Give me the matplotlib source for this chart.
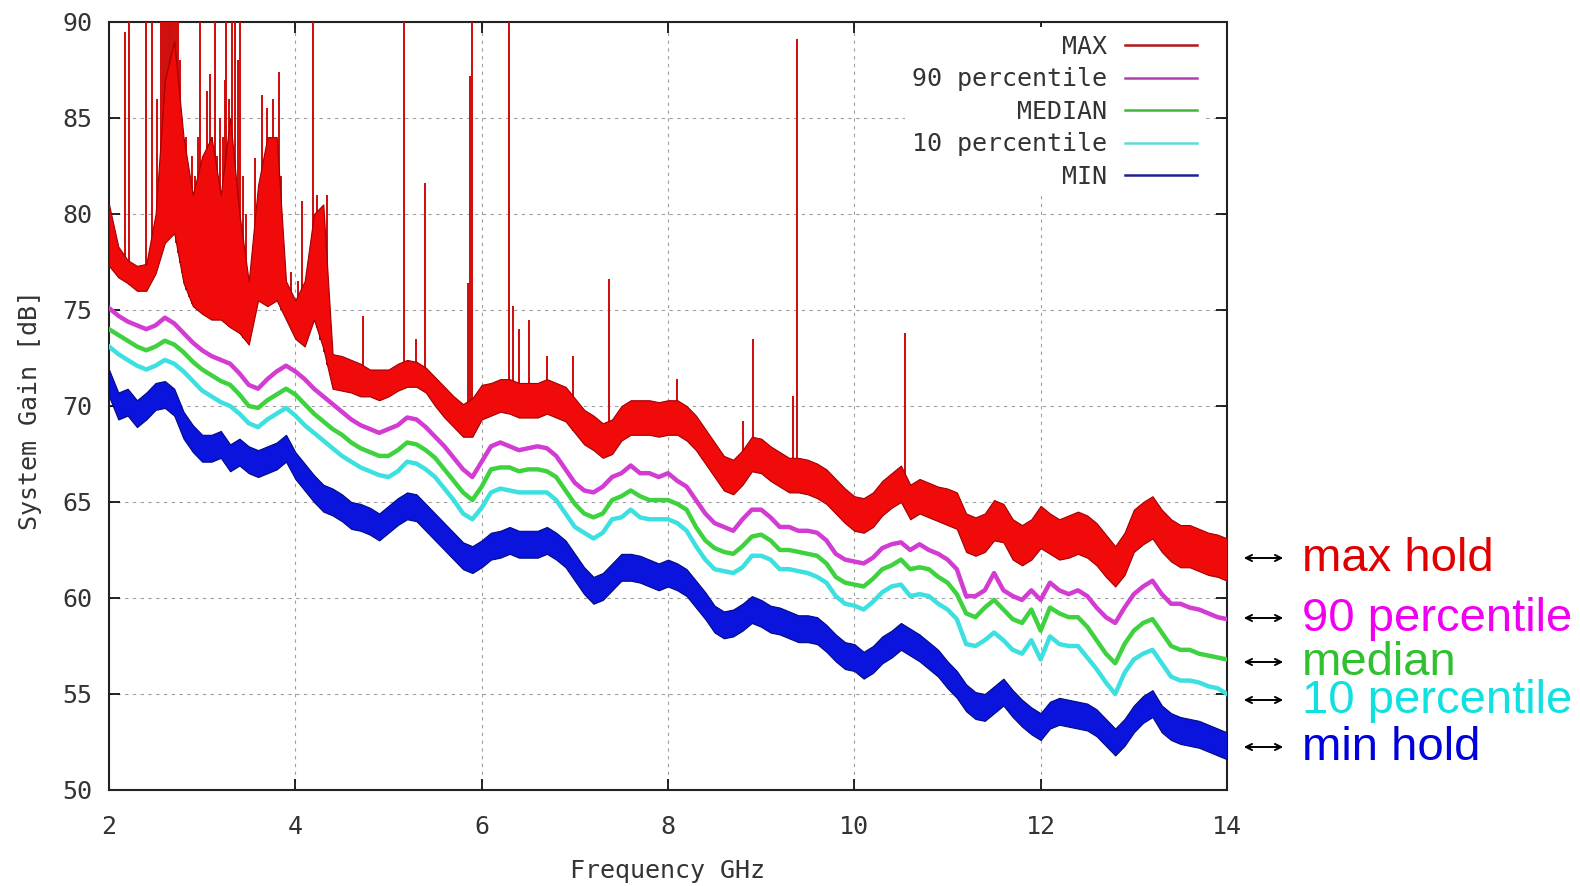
import matplotlib
import matplotlib.pyplot as plt
import numpy as np

matplotlib.use("Agg")

# sampling grid of the traces, GHz (every 0.1 GHz from 2 to 14)
FREQ = np.linspace(2.0, 14.0, 121)

# max hold: lower and upper edge of the noisy band, dB
MAX_LO = [77.3, 76.7, 76.4, 76.0, 76.0, 76.9, 78.5, 79.0, 76.4, 75.2,
          74.8, 74.5, 74.5, 74.1, 73.8, 73.2, 75.5, 75.2, 75.5, 74.5,
          73.5, 73.1, 74.5, 73.0, 70.9, 70.8, 70.7, 70.5, 70.5, 70.3,
          70.5, 70.8, 71.0, 71.0, 70.7, 70.0, 69.4, 68.9, 68.4, 68.4,
          69.3, 69.5, 69.7, 69.6, 69.4, 69.4, 69.4, 69.6, 69.4, 69.2,
          68.6, 68.0, 67.7, 67.3, 67.5, 68.2, 68.5, 68.5, 68.5, 68.4,
          68.5, 68.5, 68.2, 67.7, 67.0, 66.3, 65.6, 65.4, 65.9, 66.6,
          66.5, 66.1, 65.8, 65.5, 65.5, 65.4, 65.2, 64.9, 64.4, 63.9,
          63.5, 63.4, 63.7, 64.3, 64.7, 65.0, 64.1, 64.4, 64.2, 64.0,
          63.8, 63.6, 62.4, 62.2, 62.4, 63.0, 62.9, 62.0, 61.7, 62.0,
          62.6, 62.3, 62.0, 62.1, 62.3, 62.1, 61.7, 61.1, 60.6, 61.2,
          62.4, 62.8, 63.1, 62.4, 61.9, 61.6, 61.6, 61.4, 61.2, 61.1,
          60.9]
MAX_HI = [80.5, 78.3, 77.6, 77.3, 77.4, 80.0, 87.0, 89.0, 84.0, 81.0,
          83.0, 84.0, 81.0, 85.0, 80.0, 76.5, 81.5, 84.0, 84.0, 76.5,
          75.5, 76.5, 80.0, 80.5, 72.7, 72.6, 72.4, 72.2, 71.9, 71.9,
          71.9, 72.2, 72.4, 72.3, 72.0, 71.5, 71.0, 70.5, 70.1, 70.4,
          71.1, 71.2, 71.4, 71.4, 71.2, 71.2, 71.2, 71.4, 71.2, 71.0,
          70.4, 69.8, 69.5, 69.1, 69.3, 70.0, 70.3, 70.3, 70.3, 70.2,
          70.3, 70.3, 70.0, 69.5, 68.8, 68.1, 67.4, 67.2, 67.7, 68.4,
          68.3, 67.9, 67.6, 67.3, 67.3, 67.2, 67.0, 66.7, 66.2, 65.7,
          65.3, 65.2, 65.5, 66.1, 66.5, 66.9, 65.9, 66.2, 66.0, 65.8,
          65.7, 65.5, 64.4, 64.2, 64.4, 65.1, 64.9, 64.1, 63.8, 64.1,
          64.8, 64.4, 64.1, 64.3, 64.5, 64.3, 63.9, 63.3, 62.7, 63.4,
          64.6, 65.0, 65.3, 64.6, 64.1, 63.8, 63.8, 63.6, 63.4, 63.3,
          63.1]

P90 = [75.1, 74.7, 74.4, 74.2, 74.0, 74.2, 74.6, 74.3, 73.8, 73.3,
       72.9, 72.6, 72.4, 72.2, 71.7, 71.1, 70.9, 71.4, 71.8, 72.1,
       71.8, 71.4, 70.9, 70.5, 70.1, 69.7, 69.3, 69.0, 68.8, 68.6,
       68.8, 69.0, 69.4, 69.3, 68.9, 68.4, 67.9, 67.3, 66.7, 66.3,
       67.1, 67.9, 68.1, 67.9, 67.7, 67.8, 67.9, 67.8, 67.4, 66.7,
       66.0, 65.6, 65.5, 65.8, 66.3, 66.5, 66.9, 66.5, 66.5, 66.3,
       66.5, 66.1, 65.8, 65.1, 64.4, 63.9, 63.7, 63.5, 64.1, 64.6,
       64.6, 64.2, 63.7, 63.7, 63.5, 63.5, 63.4, 63.0, 62.3, 62.0,
       61.9, 61.8, 62.1, 62.6, 62.8, 62.9, 62.5, 62.8, 62.5, 62.3,
       62.0, 61.5, 60.1, 60.1, 60.4, 61.3, 60.4, 60.1, 59.9, 60.4,
       59.9, 60.8, 60.4, 60.2, 60.4, 60.1, 59.5, 59.0, 58.7, 59.5,
       60.2, 60.6, 60.9, 60.2, 59.7, 59.7, 59.5, 59.4, 59.2, 59.0,
       58.9]

MEDIAN = [74.0, 73.7, 73.4, 73.1, 72.9, 73.1, 73.4, 73.2, 72.8, 72.3,
          71.9, 71.6, 71.3, 71.1, 70.6, 70.0, 69.9, 70.3, 70.6, 70.9,
          70.6, 70.1, 69.6, 69.2, 68.8, 68.5, 68.1, 67.8, 67.6, 67.4,
          67.4, 67.7, 68.1, 68.0, 67.7, 67.3, 66.7, 66.1, 65.5, 65.1,
          65.8, 66.7, 66.8, 66.8, 66.6, 66.7, 66.7, 66.6, 66.3, 65.6,
          64.9, 64.4, 64.2, 64.4, 65.1, 65.3, 65.6, 65.3, 65.1, 65.1,
          65.1, 64.9, 64.6, 63.7, 63.0, 62.6, 62.4, 62.3, 62.7, 63.2,
          63.3, 63.0, 62.5, 62.5, 62.4, 62.3, 62.2, 61.8, 61.1, 60.8,
          60.7, 60.6, 61.0, 61.5, 61.7, 62.0, 61.5, 61.6, 61.5, 61.1,
          60.8, 60.2, 59.2, 59.0, 59.5, 59.9, 59.4, 58.9, 58.7, 59.4,
          58.3, 59.5, 59.2, 59.0, 59.0, 58.5, 57.8, 57.1, 56.6, 57.6,
          58.3, 58.7, 58.9, 58.2, 57.5, 57.3, 57.3, 57.1, 57.0, 56.9,
          56.8]

P10 = [73.1, 72.7, 72.4, 72.1, 71.9, 72.1, 72.4, 72.2, 71.8, 71.3,
       70.8, 70.5, 70.2, 70.0, 69.6, 69.1, 68.9, 69.3, 69.6, 69.9,
       69.5, 69.0, 68.6, 68.2, 67.8, 67.4, 67.1, 66.8, 66.6, 66.4,
       66.3, 66.6, 67.1, 67.0, 66.7, 66.3, 65.7, 65.1, 64.4, 64.1,
       64.7, 65.5, 65.7, 65.6, 65.5, 65.5, 65.5, 65.5, 65.1, 64.4,
       63.7, 63.4, 63.1, 63.4, 64.1, 64.2, 64.6, 64.2, 64.1, 64.1,
       64.1, 63.9, 63.5, 62.7, 62.0, 61.5, 61.4, 61.3, 61.6, 62.2,
       62.2, 62.0, 61.5, 61.5, 61.4, 61.3, 61.1, 60.8, 60.1, 59.7,
       59.6, 59.4, 59.8, 60.3, 60.6, 60.7, 60.1, 60.2, 60.1, 59.7,
       59.4, 58.9, 57.6, 57.5, 57.8, 58.2, 57.8, 57.3, 57.1, 57.8,
       56.8, 58.0, 57.6, 57.5, 57.5, 56.9, 56.3, 55.6, 55.0, 56.1,
       56.8, 57.1, 57.3, 56.6, 55.9, 55.7, 55.7, 55.6, 55.4, 55.3,
       55.0]

MIN = [71.2, 70.0, 70.2, 69.6, 70.0, 70.5, 70.6, 70.2, 69.0, 68.3,
       67.8, 67.8, 68.0, 67.3, 67.6, 67.2, 67.0, 67.2, 67.4, 67.8,
       66.9, 66.3, 65.7, 65.2, 65.0, 64.7, 64.3, 64.2, 64.0, 63.7,
       64.1, 64.5, 64.8, 64.7, 64.2, 63.7, 63.2, 62.7, 62.2, 62.0,
       62.3, 62.7, 62.8, 63.0, 62.8, 62.8, 62.8, 63.0, 62.7, 62.3,
       61.6, 60.9, 60.4, 60.6, 61.1, 61.6, 61.6, 61.5, 61.3, 61.1,
       61.3, 61.1, 60.8, 60.2, 59.6, 58.9, 58.6, 58.7, 59.0, 59.4,
       59.2, 58.9, 58.8, 58.6, 58.4, 58.4, 58.3, 57.9, 57.4, 57.0,
       56.9, 56.5, 56.8, 57.3, 57.6, 58.0, 57.7, 57.4, 57.0, 56.6,
       56.0, 55.5, 54.8, 54.4, 54.3, 54.7, 55.1, 54.5, 54.0, 53.6,
       53.3, 53.9, 54.1, 54.0, 53.9, 53.8, 53.5, 53.0, 52.5, 53.0,
       53.7, 54.2, 54.5, 53.7, 53.3, 53.1, 53.0, 52.9, 52.7, 52.5,
       52.3]

# narrow carriers sticking out of the max hold trace (top above 90 = clipped)
SPIKE_F = [2.17, 2.22, 2.40, 2.46, 2.52, 2.56, 2.58, 2.60, 2.62, 2.64,
           2.66, 2.68, 2.70, 2.72, 2.74, 2.76, 2.78, 2.80, 2.83, 2.86,
           2.89, 2.92, 2.95, 2.98, 3.01, 3.05, 3.08, 3.11, 3.14, 3.16,
           3.19, 3.22, 3.24, 3.26, 3.29, 3.32, 3.35, 3.38, 3.41, 3.44,
           3.47, 3.57, 3.60, 3.64, 3.67, 3.70, 3.73, 3.76, 3.79, 3.82,
           3.85, 3.95, 4.03, 4.07, 4.12, 4.19, 4.23, 4.27, 4.31, 4.34,
           4.73, 5.17, 5.30, 5.39, 5.85, 5.88, 5.90, 6.29, 6.34, 6.40,
           6.51, 6.70, 6.98, 7.37, 8.10, 8.80, 8.91, 9.34, 9.38, 10.54]
SPIKE_TOP = [89.5, 91.0, 91.0, 91.0, 86.0, 91.0, 91.0, 91.0, 91.0, 91.0,
             91.0, 91.0, 91.0, 91.0, 91.0, 88.0, 85.0, 82.0, 84.0, 80.0,
             83.0, 82.0, 84.0, 91.0, 83.0, 86.4, 87.3, 84.0, 91.0, 83.0,
             85.0, 84.0, 87.0, 91.0, 86.0, 91.0, 91.0, 88.0, 91.0, 82.0,
             80.0, 82.9, 80.0, 86.2, 83.0, 85.5, 84.0, 86.0, 84.0, 87.4,
             82.0, 77.0, 76.5, 80.7, 77.0, 91.0, 81.0, 79.0, 80.0, 81.0,
             74.7, 91.0, 73.5, 81.6, 76.4, 87.2, 91.0, 91.0, 75.2, 74.0,
             74.5, 72.6, 72.6, 76.6, 71.4, 69.2, 73.5, 70.5, 89.1, 73.8]

LEGEND_NAMES = ["MAX", "90 percentile", "MEDIAN", "10 percentile", "MIN"]
SIDE_LABELS = ["max hold", "90 percentile", "median", "10 percentile", "min hold"]

X_TICKS = [2, 4, 6, 8, 10, 12, 14]
Y_TICKS = [50, 55, 60, 65, 70, 75, 80, 85, 90]

MONO = "DejaVu Sans Mono"
W, H = 1580, 886

fig = plt.figure(figsize=(15.8, 8.86), dpi=100)
ax = fig.add_axes([109 / W, 1 - 790 / H, 1118 / W, 768 / H])

# min hold is a thick noisy band
min_half = 0.7
ax.fill_between(FREQ, np.array(MIN) - min_half, np.array(MIN) + min_half,
                color="#0a14dc", edgecolor="#000a80", lw=0.8, zorder=3)
ax.plot(FREQ, P10, color="#3de0e0", lw=3.2, zorder=4)
ax.plot(FREQ, MEDIAN, color="#3fd23f", lw=3.2, zorder=4)
ax.plot(FREQ, P90, color="#d23cd2", lw=3.2, zorder=4)

# max hold band plus spikes
spike_base = np.interp(SPIKE_F, FREQ, MAX_LO)
ax.vlines(SPIKE_F, spike_base, SPIKE_TOP, color="#d00a0a", lw=1.4, zorder=5)
ax.fill_between(FREQ, MAX_LO, MAX_HI, color="#f00a0a", edgecolor="#a00000",
                lw=0.8, zorder=5)

ax.set_xlim(2, 14)
ax.set_ylim(50, 90)
ax.set_xticks(X_TICKS)
ax.set_yticks(Y_TICKS)
ax.grid(True, color="#a0a0a0", linestyle=(0, (3, 4)), lw=0.8, zorder=1)
ax.set_axisbelow(True)
ax.tick_params(direction="in", length=8, width=1.2, top=True, right=True,
               labelsize=18, colors="black")
ax.tick_params(axis="x", pad=18)
ax.tick_params(axis="y", pad=12)
for lab in ax.get_xticklabels() + ax.get_yticklabels():
    lab.set_fontfamily(MONO)
    lab.set_color("#333333")
for sp in ax.spines.values():
    sp.set_linewidth(1.5)
    sp.set_color("#222222")

# key in the top right corner, text before the sample line
key_colors = ["#b01818", "#b040b0", "#40b840", "#60d8d8", "#202090"]
handles = [plt.Line2D([], [], color=c, lw=1.8) for c in key_colors]
leg = ax.legend(handles, LEGEND_NAMES, loc="upper right",
                bbox_to_anchor=(0.98, 0.993), markerfirst=False,
                frameon=True, fancybox=False, framealpha=1.0,
                edgecolor="none", facecolor="white",
                prop={"family": MONO, "size": 18},
                handlelength=2.9, handletextpad=0.7, labelspacing=0.34,
                borderpad=0.3, borderaxespad=0)
leg.set_zorder(10)
for t in leg.get_texts():
    t.set_color("#333333")

fig.text(30 / W, 1 - 410 / H, "System Gain [dB]", rotation=90,
         ha="center", va="center", family=MONO, size=18, color="#333333")
fig.text(668 / W, 1 - 871 / H, "Frequency GHz", ha="center",
         va="center", family=MONO, size=18, color="#333333")

# labels on the right, with double arrows pointing at the traces
side_colors = ["#e00000", "#f000f0", "#30c030", "#10e0e0", "#0000dd"]
baselines = [571, 631, 675, 713, 760]
for name, col, yb in zip(SIDE_LABELS, side_colors, baselines):
    ya = 1 - (yb - 13) / H
    fig.add_artist(matplotlib.patches.FancyArrowPatch(
        (1241 / W, ya), (1286 / W, ya), transform=fig.transFigure,
        arrowstyle="<->", mutation_scale=11, lw=1.4, color="black"))
    fig.text(1302 / W, 1 - yb / H, name, ha="left", va="baseline",
             family=["Liberation Sans", "DejaVu Sans"], size=34, color=col)

fig.savefig("out.png", dpi=100)
